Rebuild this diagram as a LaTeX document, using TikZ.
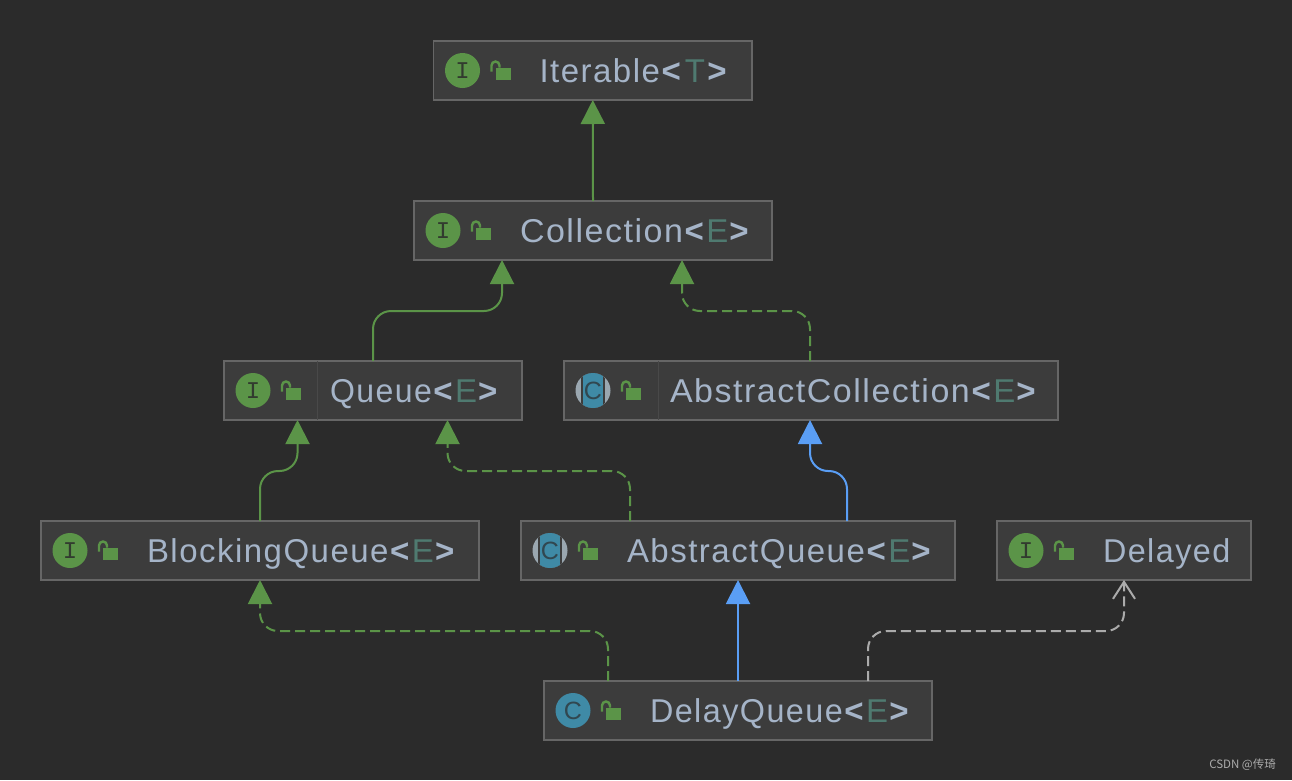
\documentclass[tikz,border=0pt]{standalone}
\usepackage{fontspec}
\usepackage{graphicx}
\setmainfont[LetterSpace=4.5]{Liberation Sans}
\newfontfamily\wmfont{Noto Sans CJK SC}
\newfontfamily\iconfont{Liberation Mono}
\newfontfamily\iconcfont{Liberation Sans}
\usetikzlibrary{arrows.meta,calc}
\definecolor{bgc}{HTML}{2B2B2B}
\definecolor{boxc}{HTML}{3C3C3C}
\definecolor{edgec}{HTML}{666666}
\definecolor{txtc}{HTML}{A5B4C8}
\definecolor{parc}{HTML}{4F7A70}
\definecolor{greenc}{HTML}{5B9448}
\definecolor{bluec}{HTML}{5A9EF5}
\definecolor{grayc}{HTML}{ABABAB}
\definecolor{tealc}{HTML}{3F8AA6}
\definecolor{icgray}{HTML}{9AA7B0}
\tikzset{
  umlbox/.style={draw=edgec,fill=boxc,line width=1.2pt,inner sep=0pt,outer sep=0pt},
  umltext/.style={anchor=base west,text=txtc,inner sep=0pt,outer sep=0pt,font=\fontsize{33}{33}\selectfont},
  iconletter/.style={inner sep=0pt,font=\iconfont\fontsize{24}{24}\selectfont,text=#1},
  iconcletter/.style={inner sep=0pt,font=\iconcfont\fontsize{25}{25}\selectfont,text=#1},
  rel/.style={line width=2pt,rounded corners=18pt},
  genarrow/.style={rel,-{Triangle[width=24pt,length=24pt]}},
  opn/.style={rel,grayc,dash pattern=on 10pt off 5pt,-{Straight Barb[width=22pt,length=17pt,line width=2pt]}},
  dashgap/.style={dash pattern=on 10pt off 5pt},
}
% xscale, word, parameter
\newcommand{\cls}[3]{\scalebox{#1}[1]{#2}\kern1.6pt\textbf{<}\kern1pt{\color{parc}#3}\kern1pt\textbf{>}}
\newcommand{\lockicon}[1]{%
  \fill[greenc] ([xshift=62pt,yshift=3pt]#1.west) rectangle ([xshift=77pt,yshift=-9.5pt]#1.west);
  \draw[greenc,line width=2.4pt] ([xshift=58pt,yshift=-1pt]#1.west) -- ([xshift=58pt,yshift=5pt]#1.west) arc[start angle=180,end angle=0,radius=4pt] -- ([xshift=66pt,yshift=3pt]#1.west);
}
% name, x1, y1, x2, y2, text
\newcommand{\umlnode}[6]{%
  \node[umlbox,minimum width={(#4-#2)*1pt},minimum height={(#5-#3)*1pt}] (#1) at ({(#2+#4)/2},{(#3+#5)/2}) {};
  \node[umltext] (#1-label) at ([xshift=106pt,yshift=-11.5pt]#1.west) {#6};
  \lockicon{#1}
}
\newcommand{\iface}[1]{%
  \node[circle,fill=greenc,minimum size=35pt,inner sep=0pt] (#1-icon) at ([xshift=29pt]#1.west) {};
  \node[iconletter=bgc!85!greenc] (#1-letter) at (#1-icon) {I};
}
\newcommand{\klass}[1]{%
  \node[circle,fill=tealc,minimum size=35pt,inner sep=0pt] (#1-icon) at ([xshift=29pt]#1.west) {};
  \node[iconcletter=bgc!70!tealc] (#1-letter) at (#1-icon) {C};
}
\newcommand{\abstractk}[1]{%
  \node[circle,fill=icgray,minimum size=35pt,inner sep=0pt] (#1-icon) at ([xshift=29pt]#1.west) {};
  \begin{scope}
    \clip (#1-icon) circle (17.5pt);
    \fill[boxc] ([xshift=-12pt,yshift=-18pt]#1-icon.center) rectangle ([xshift=12pt,yshift=18pt]#1-icon.center);
    \fill[tealc] ([xshift=-10pt,yshift=-18pt]#1-icon.center) rectangle ([xshift=10pt,yshift=18pt]#1-icon.center);
  \end{scope}
  \node[iconcletter=bgc!70!tealc] (#1-letter) at (#1-icon) {C};
}
\begin{document}
\begin{tikzpicture}[x=1pt,y=-1pt]
\useasboundingbox[fill=bgc] (0,0) rectangle (1292,780);
\umlnode{iterable}{433.5}{41}{752}{100}{\cls{1}{Iterable}{\kern1.5pt T\kern1.5pt}}\iface{iterable}
\umlnode{collection}{414}{201}{772}{260}{\cls{1.03}{Collection}{E}}\iface{collection}
\umlnode{queue}{224}{361}{522}{420}{\cls{.97}{Queue}{E}}\iface{queue}
\umlnode{abscoll}{564}{361}{1058}{420}{\cls{1.03}{AbstractCollection}{E}}\abstractk{abscoll}
\umlnode{blocking}{41}{521}{479}{580}{\cls{1}{BlockingQueue}{E}}\iface{blocking}
\umlnode{absqueue}{521}{521}{955}{580}{\cls{1}{AbstractQueue}{E}}\abstractk{absqueue}
\umlnode{delayed}{997}{521}{1251}{580}{\scalebox{.98}[1]{Delayed}}\iface{delayed}
\umlnode{delayq}{544}{681}{932}{740}{\cls{.98}{DelayQueue}{E}}\klass{delayq}
\draw[edgec!30!boxc,line width=1pt] ([xshift=93pt]queue.north west) -- ([xshift=93pt]queue.south west);
\draw[edgec!30!boxc,line width=1pt] ([xshift=94pt]abscoll.north west) -- ([xshift=94pt]abscoll.south west);
% connectors
\draw[genarrow,greenc] (collection.north) -- (iterable.south);
\draw[genarrow,greenc] (queue.north) -- ++(0,-50) -| ([xshift=-91pt]collection.south);
\draw[genarrow,greenc,dashgap] ([xshift=-1pt]abscoll.north) -- ++(0,-50) -| ([xshift=89pt]collection.south);
\draw[genarrow,greenc] (blocking.north) -- ++(0,-50) -| ([xshift=-75.5pt]queue.south);
\draw[genarrow,greenc,dashgap] ([xshift=-108pt]absqueue.north) -- ++(0,-50) -| ([xshift=74.5pt]queue.south);
\draw[genarrow,bluec] ([xshift=109pt]absqueue.north) -- ++(0,-50) -| ([xshift=-1pt]abscoll.south);
\draw[genarrow,greenc,dashgap] ([xshift=-130pt]delayq.north) -- ++(0,-50) -| (blocking.south);
\draw[genarrow,bluec] (delayq.north) -- (absqueue.south);
\draw[opn] ([xshift=130pt]delayq.north) -- ++(0,-50) -| (delayed.south);
\node[anchor=base east,inner sep=0pt,text=grayc,font=\wmfont\fontsize{11.5}{12}\selectfont] (mark) at (1276,768) {CSDN @传琦};
\end{tikzpicture}
\end{document}
